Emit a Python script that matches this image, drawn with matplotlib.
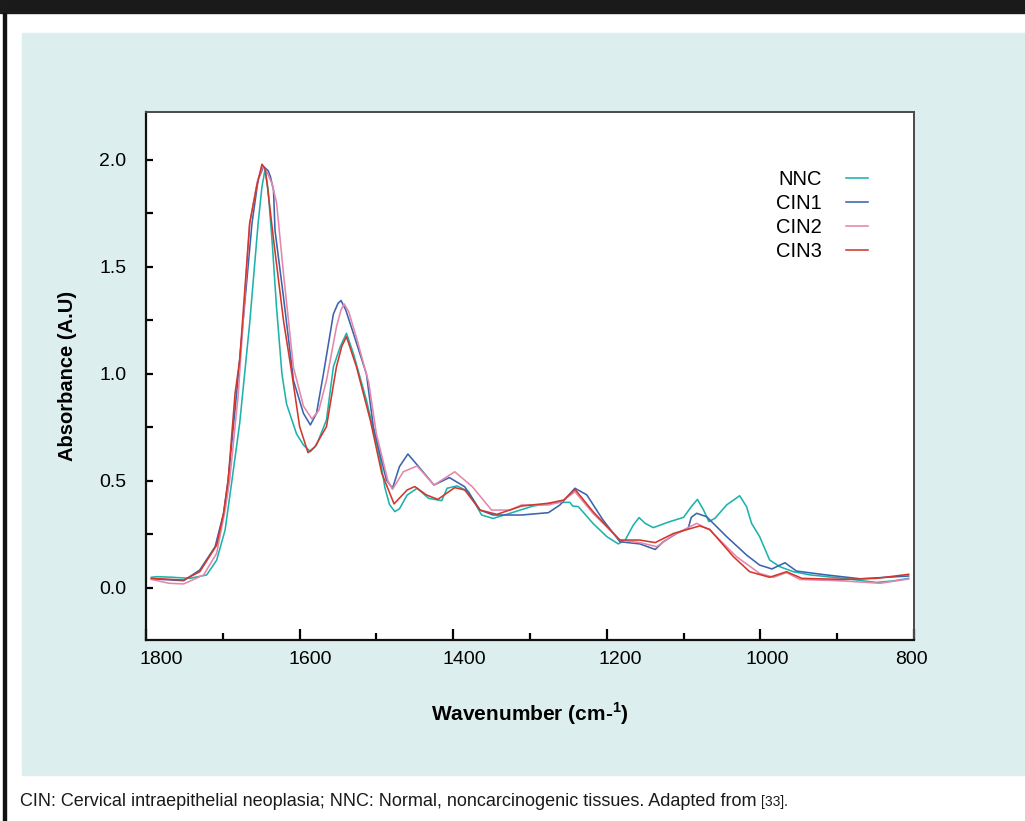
import matplotlib
matplotlib.use("Agg")
import matplotlib.pyplot as plt
import matplotlib.transforms as mtransforms
from matplotlib.patches import Rectangle

plt.rcParams['font.family'] = ['Liberation Sans', 'DejaVu Sans']
plt.rcParams['mathtext.fontset'] = 'custom'
plt.rcParams['mathtext.bf'] = 'Liberation Sans:bold'
plt.rcParams['mathtext.rm'] = 'Liberation Sans'

# NNC (normal tissue)
nnc_x = [1793, 1786, 1765, 1743, 1721, 1708, 1697, 1688, 1678, 1665, 1654, 1649, 1645,
         1641, 1636, 1630, 1623, 1617, 1604, 1595, 1586, 1578, 1565, 1556, 1547, 1539,
         1530, 1513, 1495, 1489, 1483, 1476, 1470, 1460, 1447, 1432, 1415, 1408, 1395,
         1380, 1363, 1348, 1326, 1296, 1266, 1261, 1248, 1244.5, 1237, 1218, 1200, 1185,
         1176, 1165.5, 1158, 1150, 1139.5, 1118, 1100, 1090, 1082, 1074, 1067, 1059, 1044,
         1027, 1018, 1011.5, 1001, 988, 975, 957, 935, 892, 849, 827, 807]
nnc_y = [0.05, 0.053, 0.05, 0.045, 0.061, 0.13, 0.271, 0.505, 0.77, 1.237, 1.704, 1.875, 1.956,
         1.86, 1.63, 1.31, 1.0, 0.86, 0.72, 0.668, 0.637, 0.668, 0.785, 1.034, 1.128, 1.19,
         1.096, 0.878, 0.60, 0.47, 0.39, 0.357, 0.37, 0.434, 0.466, 0.419, 0.408, 0.466, 0.477,
         0.45, 0.341, 0.325, 0.349, 0.383, 0.399, 0.40, 0.40, 0.383, 0.38, 0.302, 0.24, 0.206,
         0.224, 0.294, 0.329, 0.302, 0.282, 0.31, 0.33, 0.38, 0.414, 0.364, 0.31, 0.326, 0.388,
         0.431, 0.38, 0.302, 0.24, 0.131, 0.10, 0.076, 0.061, 0.045, 0.026, 0.033, 0.045]

# CIN1
cin1_x = [1793, 1751, 1730, 1710, 1699, 1693, 1682, 1662, 1654, 1647, 1641, 1638, 1634,
          1632, 1621, 1608, 1595, 1586, 1578, 1569, 1556, 1550, 1546, 1540, 1530, 1513,
          1504, 1487, 1479, 1470, 1459, 1445, 1425, 1405, 1385, 1365, 1348, 1311, 1276,
          1261, 1241.5, 1226, 1205, 1183, 1157, 1137, 1126.5, 1109, 1094, 1090, 1083, 1070,
          1044, 1018, 1001, 985, 968, 953, 914, 870, 807]
cin1_y = [0.043, 0.034, 0.084, 0.193, 0.349, 0.505, 0.91, 1.704, 1.907, 1.969, 1.95, 1.922, 1.86,
          1.67, 1.36, 0.97, 0.816, 0.762, 0.816, 1.0, 1.28, 1.33, 1.343, 1.30, 1.19, 1.0,
          0.754, 0.505, 0.466, 0.567, 0.626, 0.567, 0.481, 0.516, 0.473, 0.364, 0.341, 0.341, 0.352,
          0.388, 0.466, 0.435, 0.318, 0.216, 0.206, 0.18, 0.216, 0.255, 0.279, 0.33, 0.349, 0.333,
          0.24, 0.154, 0.107, 0.089, 0.118, 0.079, 0.061, 0.043, 0.056]

# CIN2
cin2_x = [1793, 1770, 1751, 1725, 1708, 1697, 1691, 1680, 1665, 1655, 1648, 1642, 1636,
          1630, 1621, 1608, 1595, 1584, 1575, 1565, 1552, 1546, 1542, 1536, 1526, 1510,
          1500, 1485, 1479, 1465, 1447, 1425, 1398, 1375, 1350, 1326, 1311, 1276, 1259,
          1241.5, 1218, 1183, 1157, 1135, 1113, 1083, 1066, 1031, 1001, 983, 966, 948.5,
          892, 844, 807]
cin2_y = [0.04, 0.022, 0.019, 0.061, 0.162, 0.364, 0.505, 0.9, 1.70, 1.90, 1.972, 1.94, 1.89,
          1.80, 1.47, 1.03, 0.85, 0.79, 0.83, 0.97, 1.22, 1.30, 1.327, 1.29, 1.17, 0.96,
          0.72, 0.50, 0.461, 0.543, 0.57, 0.481, 0.543, 0.473, 0.364, 0.364, 0.388, 0.388, 0.403,
          0.45, 0.349, 0.224, 0.212, 0.193, 0.248, 0.302, 0.271, 0.146, 0.068, 0.05, 0.072, 0.04,
          0.033, 0.022, 0.042]

# CIN3
cin3_x = [1793, 1751, 1730, 1708, 1699, 1693, 1684, 1678, 1665, 1656, 1649, 1645, 1642,
          1634, 1621, 1610, 1600, 1589, 1580, 1565, 1552, 1545, 1539, 1526, 1508, 1493,
          1477, 1460, 1450, 1435, 1420, 1398, 1385, 1365, 1343, 1311, 1276, 1256, 1241.5,
          1218, 1183, 1157, 1137, 1113, 1079, 1066, 1035, 1014, 988, 966, 946, 892,
          849, 807]
cin3_y = [0.045, 0.037, 0.076, 0.2, 0.349, 0.505, 0.91, 1.065, 1.705, 1.875, 1.98, 1.96, 1.88,
          1.63, 1.25, 1.0, 0.755, 0.632, 0.66, 0.754, 1.034, 1.13, 1.174, 1.034, 0.785, 0.536,
          0.393, 0.458, 0.474, 0.435, 0.414, 0.469, 0.458, 0.364, 0.344, 0.383, 0.396, 0.411, 0.461,
          0.357, 0.224, 0.224, 0.212, 0.255, 0.29, 0.274, 0.146, 0.076, 0.05, 0.076, 0.045, 0.04,
          0.045, 0.064]

x_ticks = [1800, 1600, 1400, 1200, 1000, 800]
y_ticks = [0.0, 0.5, 1.0, 1.5, 2.0]
caption = "CIN: Cervical intraepithelial neoplasia; NNC: Normal, noncarcinogenic tissues. Adapted from "
caption_ref = "[33]."

fig = plt.figure(figsize=(10.25, 8.21), dpi=100)

# page decoration: black bar, left rule, tinted panel
fig.patches.append(Rectangle((0, 1 - 13 / 821), 1, 13 / 821, transform=fig.transFigure,
                             color='#1a1a1a', zorder=-1))
fig.patches.append(Rectangle((3 / 1025, 0), 3 / 1025, 1 - 13 / 821, transform=fig.transFigure,
                             color='#111111', zorder=-1))
fig.patches.append(Rectangle((22 / 1025, 1 - 775 / 821), 1 - 22 / 1025, (775 - 33) / 821,
                             transform=fig.transFigure, color='#dcefee', zorder=-1))

ax = fig.add_axes([146 / 1025, 1 - 640 / 821, 768 / 1025, 528 / 821])
ax.set_zorder(2)
ax.plot(nnc_x, nnc_y, color='#1db3ab', lw=1.15, label='NNC')
ax.plot(cin1_x, cin1_y, color='#3a64ad', lw=1.15, label='CIN1')
ax.plot(cin2_x, cin2_y, color='#e487ab', lw=1.15, label='CIN2')
ax.plot(cin3_x, cin3_y, color='#d0382c', lw=1.15, label='CIN3')

ax.set_xlim(1800, 800)
ax.set_ylim(-0.243, 2.224)
ax.set_xticks(x_ticks)
ax.set_xticks([1700, 1500, 1300, 1100, 900], minor=True)
ax.set_yticks(y_ticks)
ax.set_yticks([0.25, 0.75, 1.25, 1.75], minor=True)
ax.set_yticklabels(['%.1f' % v for v in y_ticks])
ax.tick_params(axis='x', which='major', direction='in', length=8, width=1.6, labelsize=14, pad=8)
ax.tick_params(axis='x', which='minor', direction='in', length=5, width=1.6)
ax.tick_params(axis='y', which='both', direction='in', length=5, width=1.6, labelsize=14, pad=14)

offsets = [15, 11, 11, 13, 7, -3]
for lab, dx in zip(ax.get_xticklabels(), offsets):
    lab.set_transform(lab.get_transform() + mtransforms.ScaledTranslation(dx / 100, 0, fig.dpi_scale_trans))

for side in ['left', 'bottom']:
    ax.spines[side].set_linewidth(1.6)
    ax.spines[side].set_color('#111111')
for side in ['top', 'right']:
    ax.spines[side].set_linewidth(1.4)
    ax.spines[side].set_color('#4a4a4a')

ax.set_ylabel('Absorbance (A.U)', fontsize=14.5, fontweight='bold', labelpad=16)
ax.set_xlabel(r'Wavenumber (cm-$^{\mathbf{1}}$)', fontsize=15, fontweight='bold', labelpad=23)

leg = ax.legend(loc='upper left', bbox_to_anchor=(0.81, 0.905), frameon=False, markerfirst=False,
                handlelength=1.1, handletextpad=1.2, labelspacing=0.25, fontsize=14.5,
                borderaxespad=0)

t1 = fig.text(20 / 1025, 1 - 801 / 821, caption, fontsize=13, va='center', ha='left',
              color='#1a1a1a')
fig.canvas.draw()
bb = t1.get_window_extent()
fig.text(bb.x1 / 1025, 1 - 802 / 821, caption_ref, fontsize=10, va='center', ha='left',
         color='#1a1a1a')

fig.savefig('out.png', dpi=100)
